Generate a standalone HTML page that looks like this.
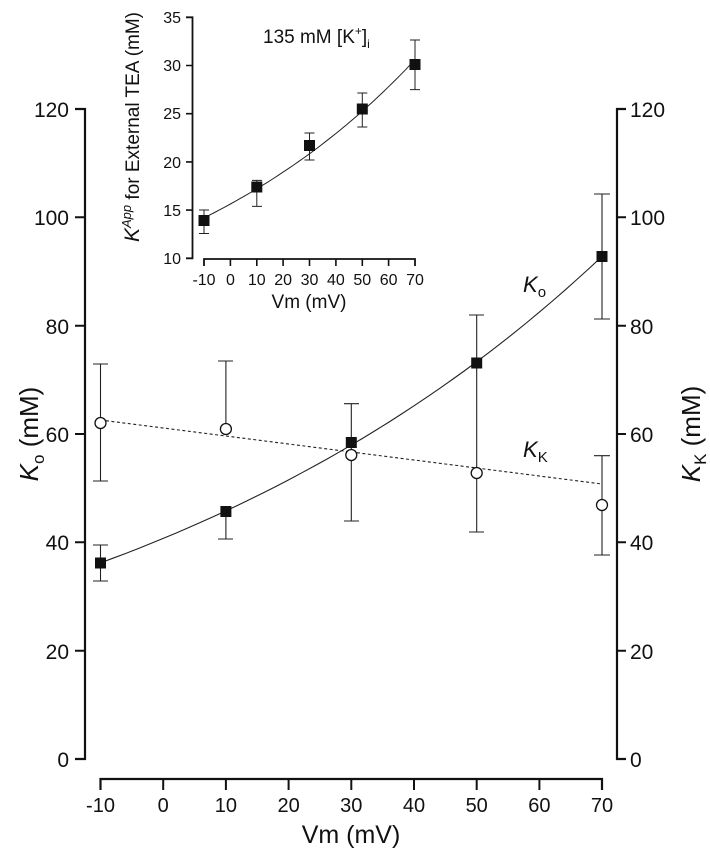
<!DOCTYPE html>
<html><head><meta charset="utf-8"><style>body{margin:0;background:#fff}svg{display:block}text{font-family:"Liberation Sans",Arial,sans-serif;fill:#111}</style></head>
<body>
<svg width="710" height="853" viewBox="0 0 710 853" xmlns="http://www.w3.org/2000/svg">
<g stroke="#111" fill="none">
<path d="M75 109 H85 V759 H75" stroke-width="2.2"/>
<path d="M75 217.3 H85 M75 325.7 H85 M75 434 H85 M75 542.3 H85 M75 650.7 H85" stroke-width="2"/>
<path d="M626 109 H617 V759 H626" stroke-width="2.2"/>
<path d="M617 217.3 H626 M617 325.7 H626 M617 434 H626 M617 542.3 H626 M617 650.7 H626" stroke-width="2"/>
<path d="M100.5 790 V779 H602 V790" stroke-width="2.2"/>
<path d="M163.2 779 V790 M225.9 779 V790 M288.6 779 V790 M351.3 779 V790 M414 779 V790 M476.7 779 V790 M539.4 779 V790" stroke-width="2"/>
</g>
<g font-size="21" text-anchor="end">
<text x="69" y="117">120</text><text x="69" y="225">100</text><text x="69" y="334">80</text><text x="69" y="442">60</text><text x="69" y="550">40</text><text x="69" y="659">20</text><text x="69" y="767">0</text>
</g>
<g font-size="21" text-anchor="start">
<text x="630" y="117">120</text><text x="630" y="225">100</text><text x="630" y="334">80</text><text x="630" y="442">60</text><text x="630" y="550">40</text><text x="630" y="659">20</text><text x="630" y="767">0</text>
</g>
<g font-size="20" text-anchor="middle">
<text x="100.5" y="812">-10</text><text x="163.2" y="812">0</text><text x="225.9" y="812">10</text><text x="288.6" y="812">20</text><text x="351.3" y="812">30</text><text x="414" y="812">40</text><text x="476.7" y="812">50</text><text x="539.4" y="812">60</text><text x="602" y="812">70</text>
</g>
<text x="351" y="843" font-size="25" text-anchor="middle">Vm (mV)</text>
<text transform="translate(38,434) rotate(-90)" font-size="26" text-anchor="middle"><tspan font-style="italic">K</tspan><tspan font-size="17" dy="6">o</tspan><tspan dy="-6"> (mM)</tspan></text>
<text transform="translate(700,434) rotate(-90)" font-size="26" text-anchor="middle"><tspan font-style="italic">K</tspan><tspan font-size="17" dy="6">K</tspan><tspan dy="-6"> (mM)</tspan></text>
<text x="523" y="292" font-size="22"><tspan font-style="italic">K</tspan><tspan font-size="15" dy="5">o</tspan></text>
<text x="523" y="457" font-size="22"><tspan font-style="italic">K</tspan><tspan font-size="15" dy="5">K</tspan></text>
<g stroke="#222" stroke-width="1.1">
<path d="M100.5 545 V581 M93 545 H108 M93 581 H108"/>
<path d="M225.9 511 V539 M218 539 H233"/>
<path d="M351.3 403.7 V521 M344 403.7 H359 M344 521 H359"/>
<path d="M476.7 315 V532 M469 315 H484 M469 532 H484"/>
<path d="M602 194 V319 M594 194 H610 M594 319 H610"/>
<path d="M100.5 364 V481 M93 364 H108 M93 481 H108"/>
<path d="M225.9 361 V425 M218 361 H233"/>
<path d="M602 455.7 V555 M594 455.7 H610 M594 555 H610"/>
</g>
<path d="M100.5 420 L602 484" stroke="#222" stroke-width="1.1" stroke-dasharray="3,2.5" fill="none"/>
<path id="ko" fill="none" stroke="#222" stroke-width="1.1" d=""/>
<g fill="#fff" stroke="#111" stroke-width="1.3">
<circle cx="100.5" cy="423" r="5.5"/><circle cx="225.9" cy="429" r="5.5"/><circle cx="351.3" cy="455" r="5.5"/><circle cx="476.7" cy="473" r="5.5"/><circle cx="602" cy="505" r="5.5"/>
</g>
<g fill="#111">
<rect x="95" y="557.5" width="11" height="11"/><rect x="220.4" y="506" width="11" height="11"/><rect x="345.8" y="437" width="11" height="11"/><rect x="471.2" y="357.5" width="11" height="11"/><rect x="596.5" y="251" width="11" height="11"/>
</g>
<g stroke="#111" fill="none">
<path d="M186 17.3 H192.5 V258.3 H186" stroke-width="1.8"/>
<path d="M186 65.5 H192.5 M186 113.7 H192.5 M186 161.9 H192.5 M186 210.1 H192.5" stroke-width="1.6"/>
<path d="M204 266 V259 H415 V266" stroke-width="1.8"/>
<path d="M230.4 259 V266 M256.8 259 V266 M283.1 259 V266 M309.5 259 V266 M335.9 259 V266 M362.3 259 V266 M388.6 259 V266" stroke-width="1.6"/>
</g>
<g font-size="16" text-anchor="end">
<text x="181" y="23">35</text><text x="181" y="71">30</text><text x="181" y="119">25</text><text x="181" y="168">20</text><text x="181" y="216">15</text><text x="181" y="264">10</text>
</g>
<g font-size="16" text-anchor="middle">
<text x="204" y="285">-10</text><text x="230.4" y="285">0</text><text x="256.8" y="285">10</text><text x="283.1" y="285">20</text><text x="309.5" y="285">30</text><text x="335.9" y="285">40</text><text x="362.3" y="285">50</text><text x="388.6" y="285">60</text><text x="415" y="285">70</text>
</g>
<text x="309" y="308" font-size="19" text-anchor="middle">Vm (mV)</text>
<text transform="translate(139,127) rotate(-90)" font-size="19" text-anchor="middle"><tspan font-style="italic" font-size="21">K</tspan><tspan font-style="italic" font-size="13" dy="-8">App</tspan><tspan dy="8"> for External TEA (mM)</tspan></text>
<text x="263" y="43" font-size="19">135 mM [K<tspan font-size="12" dy="-8">+</tspan><tspan dy="8">]</tspan><tspan font-size="12" dy="5">i</tspan></text>
<g stroke="#222" stroke-width="1">
<path d="M204 210 V233.5 M199 210 H209 M199 233.5 H209"/>
<path d="M256.8 180.4 V206.4 M252 180.4 H262 M252 206.4 H262"/>
<path d="M309.5 133 V160 M304.5 133 H314.5 M304.5 160 H314.5"/>
<path d="M362.3 93 V127 M357.3 93 H367.3 M357.3 127 H367.3"/>
<path d="M415 40 V89.6 M410 40 H420 M410 89.6 H420"/>
</g>
<path id="inc" fill="none" stroke="#222" stroke-width="1" d=""/>
<g fill="#111">
<rect x="198.5" y="215" width="11" height="11"/><rect x="251.3" y="181.5" width="11" height="11"/><rect x="304" y="140" width="11" height="11"/><rect x="356.8" y="103.5" width="11" height="11"/><rect x="409.5" y="59" width="11" height="11"/>
</g>
</svg>
<script>
(function(){
var d="";for(var i=0;i<=40;i++){var v=-10+i*2;var k=36.2*Math.pow(92.8/36.2,(v+10)/80);var x=100.5+(v+10)*6.27;var y=759-k*5.417;d+=(i?"L":"M")+x.toFixed(1)+" "+y.toFixed(1);}
document.getElementById("ko").setAttribute("d",d);
d="";for(var i=0;i<=40;i++){var v=-10+i*2;var k=14.2*Math.pow(30.6/14.2,(v+10)/80);var x=204+(v+10)*2.6375;var y=258.3-(k-10)*9.64;d+=(i?"L":"M")+x.toFixed(1)+" "+y.toFixed(1);}
document.getElementById("inc").setAttribute("d",d);
})();
</script>
</body></html>
